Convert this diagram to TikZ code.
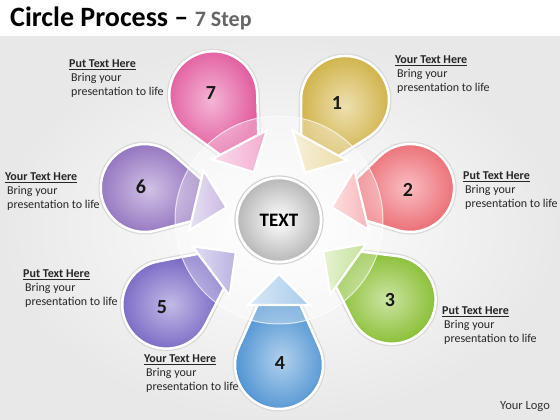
\documentclass[tikz,border=0pt]{standalone}
\usepackage{fontspec}
\setmainfont{Carlito}
\definecolor{c1}{RGB}{216,186,80}
\definecolor{c2}{RGB}{242,110,118}
\definecolor{c3}{RGB}{140,196,52}
\definecolor{c4}{RGB}{82,152,216}
\definecolor{c5}{RGB}{120,102,200}
\definecolor{c6}{RGB}{150,118,196}
\definecolor{c7}{RGB}{232,92,162}
\tikzset{
  lbl/.style={anchor=north west, align=left, inner sep=0pt, font=\fontsize{12}{14}\selectfont, text=black!85},
  num/.style={inner sep=0pt, font=\fontsize{20}{20}\selectfont\bfseries, text=black!90},
}
\newcommand{\mydrop}[3]{% #1 angle, #2 distance, #3 colour
  \pgfmathsetmacro{\mydx}{#2-84}
  \pgfmathsetmacro{\mytang}{180-atan(21/\mydx)-acos(44/sqrt(\mydx*\mydx+441))}
  \begin{scope}[shift={(279,200)}, rotate=#1]
    \draw[black!15, line width=5pt, line join=round] (84,21) -- ([shift={(#2,0)}]\mytang:44) arc[start angle=\mytang, end angle=-\mytang, radius=44] -- (84,-21) -- cycle;
    \shade[inner color=#3!45!white, outer color=#3!97!black, draw=white, line width=2.5pt, line join=round] (84,21) -- ([shift={(#2,0)}]\mytang:44) arc[start angle=\mytang, end angle=-\mytang, radius=44] -- (84,-21) -- cycle;
  \end{scope}}
\newcommand{\myhead}[2]{% #1 angle, #2 colour
  \begin{scope}[shift={(279,200)}, rotate=#1]
    \shade[left color=#2!22!white, right color=#2!50!white, draw=white, line width=2.2pt, line join=miter] (54,0) -- (85,31) -- (85,-31) -- cycle;
  \end{scope}}
\begin{document}
\begin{tikzpicture}[x=1pt, y=1pt]
\useasboundingbox (0,0) rectangle (560,420);
% background
\fill[white] (0,0) rectangle (560,420);
\shade[inner color=white, outer color=black!9] (0,0) rectangle (560,383);
% drops
\mydrop{117.8}{141}{c7}
\mydrop{61.2}{137}{c1}
\mydrop{13.7}{135}{c2}
\mydrop{-35.3}{138}{c3}
\mydrop{270}{145}{c4}
\mydrop{216.9}{141}{c5}
\mydrop{166.6}{138}{c6}
% translucent ring
\fill[white, opacity=.32] (279,200) circle (104);
\draw[white, opacity=.7, line width=1pt] (279,200) circle (104);
% arrow heads
\myhead{117.8}{c7}
\myhead{61.2}{c1}
\myhead{13.7}{c2}
\myhead{-35.3}{c3}
\myhead{270}{c4}
\myhead{216.9}{c5}
\myhead{166.6}{c6}
% centre
\draw[black!18, line width=1.2pt] (279,200) circle (44);
\node[circle, minimum size=84pt, inner sep=0pt, draw=white, line width=2.5pt, inner color=white, outer color=black!28, font=\fontsize{19}{19}\selectfont\bfseries] (ctr) at (279,200) {TEXT};
% numbers
\node[num] (n7) at (211,327) {7};
\node[num] (n1) at (337,317) {1};
\node[num] (n2) at (408,230) {2};
\node[num] (n3) at (390,120) {3};
\node[num] (n4) at (280,57) {4};
\node[num] (n5) at (162,113) {5};
\node[num] (n6) at (141,233) {6};
% labels
\node[lbl] (t7) at (69,360) {\textbf{\underline{Put Text Here}}\\\,Bring your\\\,presentation to life};
\node[lbl] (t1) at (395,364) {\textbf{\underline{Your Text Here}}\\\,Bring your\\\,presentation to life};
\node[lbl] (t2) at (463,248) {\textbf{\underline{Put Text Here}}\\\,Bring your\\\,presentation to life};
\node[lbl] (t3) at (442,113) {\textbf{\underline{Put Text Here}}\\\,Bring your\\\,presentation to life};
\node[lbl] (t4) at (144,65) {\textbf{\underline{Your Text Here}}\\\,Bring your\\\,presentation to life};
\node[lbl] (t5) at (23,150) {\textbf{\underline{Put Text Here}}\\\,Bring your\\\,presentation to life};
\node[lbl] (t6) at (5,247) {\textbf{\underline{Your Text Here}}\\\,Bring your\\\,presentation to life};
\node[inner sep=0pt, font=\fontsize{12.5}{14}\selectfont, text=black!80] (logo) at (525,13) {Your Logo};
% title
\node[anchor=base west, inner sep=0pt, font=\fontsize{28}{28}\selectfont\bfseries] (title) at (10,393) {Circle Process – \textcolor{black!60}{\fontsize{22}{22}\selectfont 7 Step}};
\end{tikzpicture}
\end{document}
